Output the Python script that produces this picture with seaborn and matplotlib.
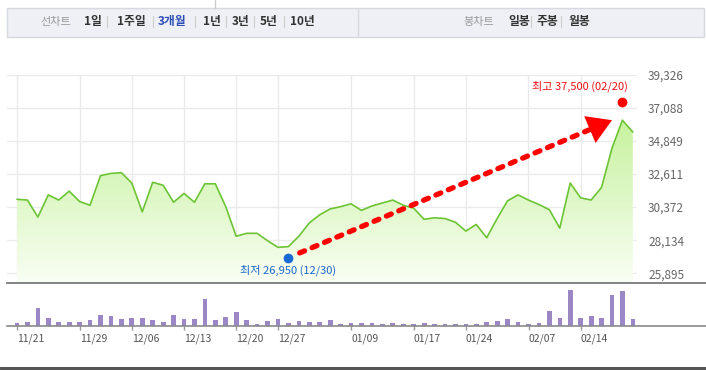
import numpy as np
import pandas as pd
import matplotlib.pyplot as plt
import seaborn as sns
from matplotlib.patches import Rectangle

# daily close (won) and volume (relative units), 60 trading days
close = [30900, 30850, 29700, 31200, 30850, 31450, 30750, 30500, 32500, 32650,
         32700, 32000, 30050, 32050, 31850, 30700, 31300, 30700, 31950, 31950,
         30400, 28400, 28600, 28600, 28100, 27650, 27700, 28400, 29300, 29850,
         30250, 30400, 30600, 30150, 30450, 30650, 30850, 30500, 30300, 29550,
         29650, 29600, 29350, 28750, 29200, 28300, 29600, 30800, 31200, 30850,
         30550, 30200, 28950, 32000, 31000, 30850, 31700, 34350, 36250, 35450]
volume = [10, 13, 55, 25, 13, 13, 13, 19, 34, 31, 22, 25, 25, 19, 13, 34, 22, 22, 82, 19,
          28, 43, 19, 7, 16, 22, 10, 16, 13, 13, 19, 7, 10, 10, 10, 7, 10, 7, 7, 10,
          7, 7, 7, 7, 7, 13, 16, 22, 13, 7, 10, 46, 25, 109, 25, 31, 25, 94, 106, 22]
tick_pos = [0, 6, 11, 16, 21, 25, 32, 38, 43, 49, 54]
tick_labels = ["11/21", "11/29", "12/06", "12/13", "12/20", "12/27",
               "01/09", "01/17", "01/24", "02/07", "02/14"]
price_ticks = [25895, 28134, 30372, 32611, 34849, 37088, 39326]
low_idx, low_price, low_date = 26, 26950, "12/30"
high_idx, high_price, high_date = 58, 37500, "02/20"
line_periods = ["1일", "1주일", "3개월", "1년", "3년", "5년", "10년"]
candle_periods = ["일봉", "주봉", "월봉"]

sns.set_theme(style="white")
plt.rcParams['font.family'] = ['Noto Sans CJK KR', 'DejaVu Sans']

df = pd.DataFrame({"idx": np.arange(len(close)), "close": close, "volume": volume})

W, H = 706, 370
fig = plt.figure(figsize=(W / 100, H / 100), dpi=100)


def box(x0, y0, x1, y1):
    return [x0 / W, 1 - y1 / H, (x1 - x0) / W, (y1 - y0) / H]


# overlay in pixel coords for header / decorations
hd = fig.add_axes([0, 0, 1, 1])
hd.set_xlim(0, W)
hd.set_ylim(H, 0)
hd.axis("off")
hd.set_zorder(-1)

ax = fig.add_axes(box(7, 74.7, 637, 283.3))
axv = fig.add_axes(box(7, 283.3, 706, 326.3))

px = 10.44  # pixels per trading day
x_left = -10 / px
ylo, yhi = 25220, price_ticks[-1]

# ---- price panel ----
sns.lineplot(data=df, x="idx", y="close", color="#6cc435", lw=1.2, ax=ax, zorder=4)
poly = ax.fill_between(df["idx"], df["close"], ylo, facecolor="none", lw=0)
top_c = np.array([0.78, 0.95, 0.62])
bot_c = np.array([0.975, 0.995, 0.955])
t = np.linspace(0, 1, 256)[:, None]
grad = (bot_c * (1 - t) + top_c * t)[:, None, :]
im = ax.imshow(grad, extent=[x_left, 59.4, ylo, max(close)], origin="lower",
               aspect="auto", zorder=2)
im.set_clip_path(poly.get_paths()[0], transform=ax.transData)

ax.set_xlim(x_left, 59.4)
ax.set_ylim(ylo, yhi)
ax.set_xticks(tick_pos)
ax.set_xticklabels([])
ax.set_yticks(price_ticks)
ax.set_yticklabels([f"{v:,}" for v in price_ticks])
ax.yaxis.tick_right()
ax.tick_params(axis="y", length=0, pad=8, labelsize=8.5, labelcolor="#666666")
ax.tick_params(axis="x", length=0)
ax.grid(True, color="#ebebeb", lw=1)
ax.set_axisbelow(True)
for s in ax.spines.values():
    s.set_visible(False)
ax.set_xlabel("")
ax.set_ylabel("")

# dashed trend arrow from low to high
tip = np.array([high_idx - 1, close[high_idx]], dtype=float)
start = np.array([low_idx, low_price], dtype=float)
seg = tip - start
dash_from = start + 0.035 * seg
shaft_end = start + 0.94 * seg
ax.plot([dash_from[0], shaft_end[0]], [dash_from[1], shaft_end[1]],
        color="#ff0000", lw=3.8, dashes=(1.0, 1.55), dash_capstyle="round", zorder=5)
ax.annotate("", xy=tip, xytext=shaft_end,
            arrowprops=dict(arrowstyle="-|>,head_length=1.15,head_width=0.7", fc="#ff0000",
                            ec="#ff0000", lw=0, mutation_scale=15, shrinkA=0, shrinkB=0),
            zorder=6)

ax.plot([low_idx], [low_price], "o", color="#1a6ad6", ms=6, zorder=7, clip_on=False)
ax.plot([high_idx], [high_price], "o", color="#ff0000", ms=6, zorder=7, clip_on=False)
ax.annotate(f"최저 {low_price:,} ({low_date})", xy=(low_idx, low_price), xytext=(0, -13),
            textcoords="offset pixels", ha="center", va="center", fontsize=8, color="#1a66cc")
ax.annotate(f"최고 {high_price:,} ({high_date})", xy=(high_idx, high_price), xytext=(5, 15),
            textcoords="offset pixels", ha="right", va="center", fontsize=8, color="#ee1111")

# ---- volume panel ----
sns.barplot(data=df, x="idx", y="volume", native_scale=True, width=0.45, color="#9b86c6",
            saturation=1, linewidth=0, ax=axv)
axv.set_xlim(x_left, (W - 7) / px + x_left)
axv.set_ylim(0, max(volume) * 129 / 109)
axv.set_yticks([])
axv.set_xticks(tick_pos)
axv.set_xticklabels(tick_labels, ha="left")
axv.tick_params(axis="x", length=3, width=1, color="#999999", pad=2, labelsize=7.5,
                labelcolor="#555555", bottom=True)
axv.set_xlabel("")
axv.set_ylabel("")
for side in ["left", "right"]:
    axv.spines[side].set_visible(False)
axv.spines["top"].set_color("#7a7a7a")
axv.spines["top"].set_linewidth(1.3)
axv.spines["bottom"].set_color("#8a8a8a")
axv.spines["bottom"].set_linewidth(1.2)

# volume legend
hd.add_patch(Rectangle((659.5, 291), 3, 9, color="#9b86c6"))
hd.text(664, 296, "거래량", fontsize=7.5, color="#555555", va="center", ha="left")

# ---- header bar ----
hd.add_patch(Rectangle((7, 7.5), 697, 29.5, facecolor="#eef0f5", edgecolor="#d5d8de", lw=1))
hd.plot([358, 358], [7.5, 37], color="#d5d8de", lw=1)
hd.plot([215, 215], [0, 7.5], color="#cccccc", lw=1)
hd.text(40, 21.5, "선차트", fontsize=8, color="#999999", va="center")
for lab, xx in zip(line_periods, [84, 117, 158, 203, 232, 260, 290]):
    hd.text(xx, 21.5, lab, fontsize=8.5, fontweight="bold", va="center",
            color="#2d4fb5" if lab == "3개월" else "#333333")
for sx in [107, 153, 194.5, 226, 254, 284]:
    hd.plot([sx, sx], [16, 27], color="#cccccc", lw=0.8)
hd.text(463, 21.5, "봉차트", fontsize=8, color="#999999", va="center")
for lab, xx in zip(candle_periods, [508, 537, 568]):
    hd.text(xx, 21.5, lab, fontsize=8.5, fontweight="bold", color="#333333", va="center")
for sx in [530.5, 561]:
    hd.plot([sx, sx], [16, 27], color="#cccccc", lw=0.8)

# bottom scroll line
hd.plot([0, W], [367.8, 367.8], color="#555555", lw=2.2)
hd.add_patch(Rectangle((337, 366.5), 40, 3.5, facecolor="#dddddd", edgecolor="none"))

fig.savefig("out.png", dpi=100)
